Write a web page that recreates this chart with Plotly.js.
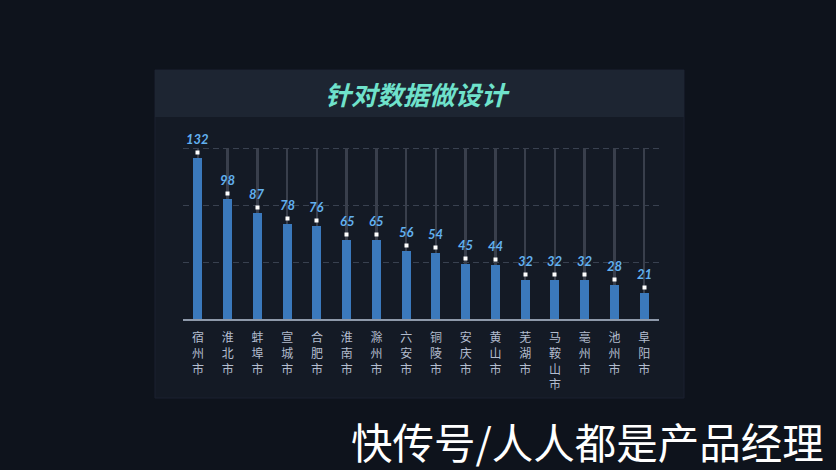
<!DOCTYPE html>
<html>
<head>
<meta charset="utf-8">
<script src="https://cdn.plot.ly/plotly-3.0.1.min.js"></script>
<style>
html,body{margin:0;padding:0;background:#0e131c;}
#chart{width:836px;height:470px;}
</style>
</head>
<body>
<div id="chart"></div>
<script>
const cities = ["宿州市","淮北市","蚌埠市","宣城市","合肥市","淮南市","滁州市","六安市","铜陵市","安庆市","黄山市","芜湖市","马鞍山市","亳州市","池州市","阜阳市"];
const values = [132, 98, 87, 78, 76, 65, 65, 56, 54, 45, 44, 32, 32, 32, 28, 21];
const axisMax = 140;
const rangeMax = 141;
const gridVals = [140/3, 280/3, 140];
const titleText = "针对数据做设计";
const watermark = "快传号/人人都是产品经理";

const W = 836, H = 470;
const L = 183, R = 659, T = 147, B = 319;
const px = x => (x - L) / (R - L);
const py = y => (B - y) / (B - T);

const tickText = cities.map(c => c.split("").join("<br>"));
const track = cities.map(() => axisMax);

const traces = [
  {type:"bar", x:cities, y:track, width:0.085, marker:{color:"#393f4c"}, hoverinfo:"skip", showlegend:false},
  {type:"bar", x:cities, y:values, width:0.3, marker:{color:"#3b79bc", line:{width:0}}, showlegend:false}
];

const annotations = [];
cities.forEach((c, i) => {
  annotations.push({x:c, y:values[i], xref:"x", yref:"y", text:" ", showarrow:false,
    bgcolor:"#ffffff", borderpad:0, width:3, height:3, yshift:5.5, yanchor:"middle", font:{size:3}});
  annotations.push({x:c, y:values[i], xref:"x", yref:"y", text:String(values[i]), showarrow:false,
    yshift:19, yanchor:"middle",
    font:{family:"Lato, 'Open Sans', sans-serif", size:13, color:"#62b0ef", style:"italic", weight:"bold"}});
});
annotations.push({xref:"paper", yref:"paper", x:px(417), y:py(94), text:titleText, showarrow:false,
  xanchor:"center", yanchor:"middle",
  font:{family:"'Noto Sans CJK SC', sans-serif", size:26, color:"#6fe2cb", style:"italic", weight:"bold"}});
annotations.push({xref:"paper", yref:"paper", x:px(349), y:py(441), text:watermark, showarrow:false,
  xanchor:"left", yanchor:"middle",
  font:{family:"'Noto Sans CJK SC', sans-serif", size:41.5, color:"#ffffff"}});

const shapes = [
  {type:"rect", xref:"paper", yref:"paper", x0:px(155), x1:px(684), y0:py(398), y1:py(70), layer:"below",
    fillcolor:"#141a25", line:{width:1, color:"#1a2130"}},
  {type:"rect", xref:"paper", yref:"paper", x0:px(155), x1:px(684), y0:py(117), y1:py(70), layer:"below",
    fillcolor:"#1d2532", line:{width:0}}
];

const layout = {
  width:W, height:H,
  margin:{l:L, r:W-R, t:T, b:H-B, pad:0},
  paper_bgcolor:"#0e131c", plot_bgcolor:"rgba(0,0,0,0)",
  barmode:"overlay", bargap:0,
  showlegend:false,
  xaxis:{type:"category", tickvals:cities, ticktext:tickText, showgrid:false, zeroline:false,
    showline:true, linecolor:"#8e99aa", linewidth:2, ticks:"", ticklen:0, ticklabelstandoff:7,
    tickfont:{family:"'Noto Sans CJK SC', sans-serif", size:12, color:"#b3bdcf"}, fixedrange:true},
  yaxis:{range:[0, rangeMax], tickvals:gridVals, showticklabels:false, showgrid:true,
    gridcolor:"#394150", griddash:"6px,4px", gridwidth:1, zeroline:false, showline:false, fixedrange:true},
  annotations:annotations,
  shapes:shapes
};

Plotly.newPlot("chart", traces, layout, {displayModeBar:false, staticPlot:true});
</script>
</body>
</html>
